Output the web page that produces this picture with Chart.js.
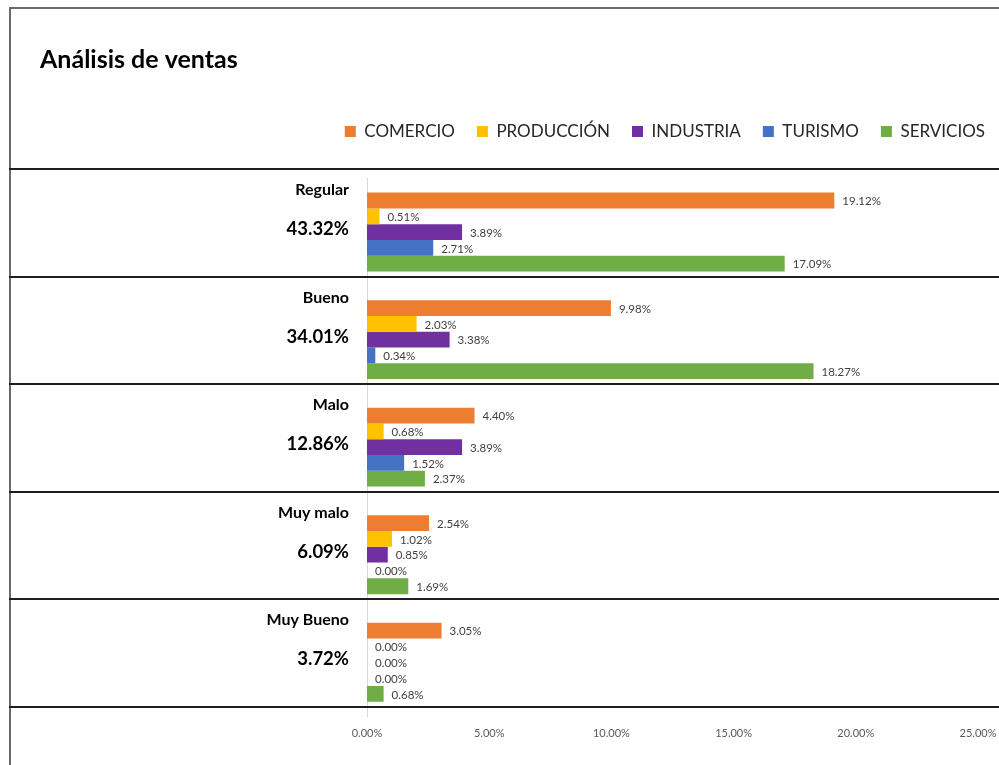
<!DOCTYPE html>
<html><head><meta charset="utf-8">
<script src="https://cdn.jsdelivr.net/npm/chart.js@4"></script>
<style>
html,body{margin:0;padding:0;background:#fff;overflow:hidden;width:999px;height:765px}
#frame{position:absolute;left:9px;top:7px;width:1100px;height:1000px;border:2px solid #6b6b6b;box-sizing:border-box}
#wrap{position:absolute;left:0;top:0;width:999px;height:765px}
</style></head><body>
<div id="frame"></div>
<div id="wrap"><canvas id="c" width="999" height="765"></canvas></div>
<script>
const categories = ['Regular', 'Bueno', 'Malo', 'Muy malo', 'Muy Bueno'];
const totals = [43.32, 34.01, 12.86, 6.09, 3.72];
const seriesNames = ['COMERCIO', 'PRODUCCIÓN', 'INDUSTRIA', 'TURISMO', 'SERVICIOS'];
const comercio   = [19.12, 9.98, 4.40, 2.54, 3.05];
const produccion = [0.51, 2.03, 0.68, 1.02, 0.00];
const industria  = [3.89, 3.38, 3.89, 0.85, 0.00];
const turismo    = [2.71, 0.34, 1.52, 0.00, 0.00];
const servicios  = [17.09, 18.27, 2.37, 1.69, 0.68];
const xTicks = [0, 5, 10, 15, 20, 25];
const colors = ['#ED7D31', '#FFC000', '#7030A0', '#4472C4', '#70AD47'];

const FONT = 'Lato, "Open Sans", "DejaVu Sans", sans-serif';
Chart.defaults.font.family = FONT;

const seriesValues = [comercio, produccion, industria, turismo, servicios];
const datasets = seriesNames.map((name, i) => ({
  label: name,
  data: seriesValues[i],
  backgroundColor: colors[i],
  borderWidth: 0,
  barPercentage: 1,
  categoryPercentage: 0.734
}));

const fmt = v => v.toFixed(2) + '%';

const decorPlugin = {
  id: 'decor',
  beforeDatasetsDraw(chart) {
    const ctx = chart.ctx, y = chart.scales.y;
    ctx.save();
    ctx.strokeStyle = '#1e1e1e';
    ctx.lineWidth = 2;
    for (let i = 0; i <= categories.length; i++) {
      const py = Math.round(y.getPixelForValue(i - 0.5) - 9);
      ctx.beginPath();
      ctx.moveTo(9, py);
      ctx.lineTo(999, py);
      ctx.stroke();
    }
    ctx.restore();
  },
  afterDatasetsDraw(chart) {
    const ctx = chart.ctx, y = chart.scales.y, area = chart.chartArea;
    ctx.save();
    // data labels
    ctx.font = '11.5px ' + FONT;
    ctx.fillStyle = '#404040';
    ctx.textAlign = 'left';
    ctx.textBaseline = 'middle';
    chart.data.datasets.forEach((ds, d) => {
      const meta = chart.getDatasetMeta(d);
      meta.data.forEach((bar, i) => {
        ctx.fillText(fmt(ds.data[i]), bar.x + 8, bar.y + 1);
      });
    });
    // category labels
    ctx.fillStyle = '#000';
    ctx.textAlign = 'right';
    categories.forEach((c, i) => {
      const cy = y.getPixelForValue(i);
      ctx.font = 'bold 16px ' + FONT;
      ctx.fillText(c, area.left - 18, cy - 42);
      ctx.font = 'bold 18.5px ' + FONT;
      ctx.fillText(fmt(totals[i]), area.left - 18, cy - 3);
    });
    ctx.restore();
  }
};

new Chart(document.getElementById('c'), {
  type: 'bar',
  data: { labels: categories, datasets },
  plugins: [decorPlugin],
  options: {
    indexAxis: 'y',
    responsive: false,
    animation: false,
    layout: { padding: { left: 40, right: -8, top: 0, bottom: 0 } },
    plugins: {
      title: {
        display: true,
        text: 'Análisis de ventas',
        align: 'start',
        color: '#000',
        font: { size: 25, weight: 'bold' },
        padding: { top: 45, bottom: 26 }
      },
      legend: {
        display: true,
        position: 'top',
        align: 'end',
        labels: {
          boxWidth: 11,
          boxHeight: 11,
          padding: 22,
          color: '#262626',
          font: { size: 17 }
        }
      },
      tooltip: { enabled: false }
    },
    scales: {
      x: {
        type: 'linear',
        position: 'bottom',
        min: 0,
        max: 25,
        afterBuildTicks: s => { s.ticks = xTicks.map(v => ({ value: v })); },
        afterFit: s => { s.height = 49; s.paddingRight = 21; },
        grid: { display: false, drawTicks: false },
        border: { display: false },
        ticks: {
          padding: 11,
          color: '#595959',
          font: { size: 11 },
          callback: v => fmt(v)
        }
      },
      xTop: {
        type: 'linear',
        position: 'top',
        min: 0,
        max: 25,
        afterFit: s => { s.height = 28.3; s.paddingRight = 0; s.paddingLeft = 0; },
        grid: { display: false, drawTicks: false },
        border: { display: false },
        ticks: { display: false }
      },
      y: {
        type: 'category',
        afterFit: s => { s.width = 327; },
        grid: { display: false, drawTicks: false },
        border: { display: true, color: '#d9d9d9', width: 1 },
        ticks: { display: false }
      }
    }
  }
});
</script>
</body></html>
